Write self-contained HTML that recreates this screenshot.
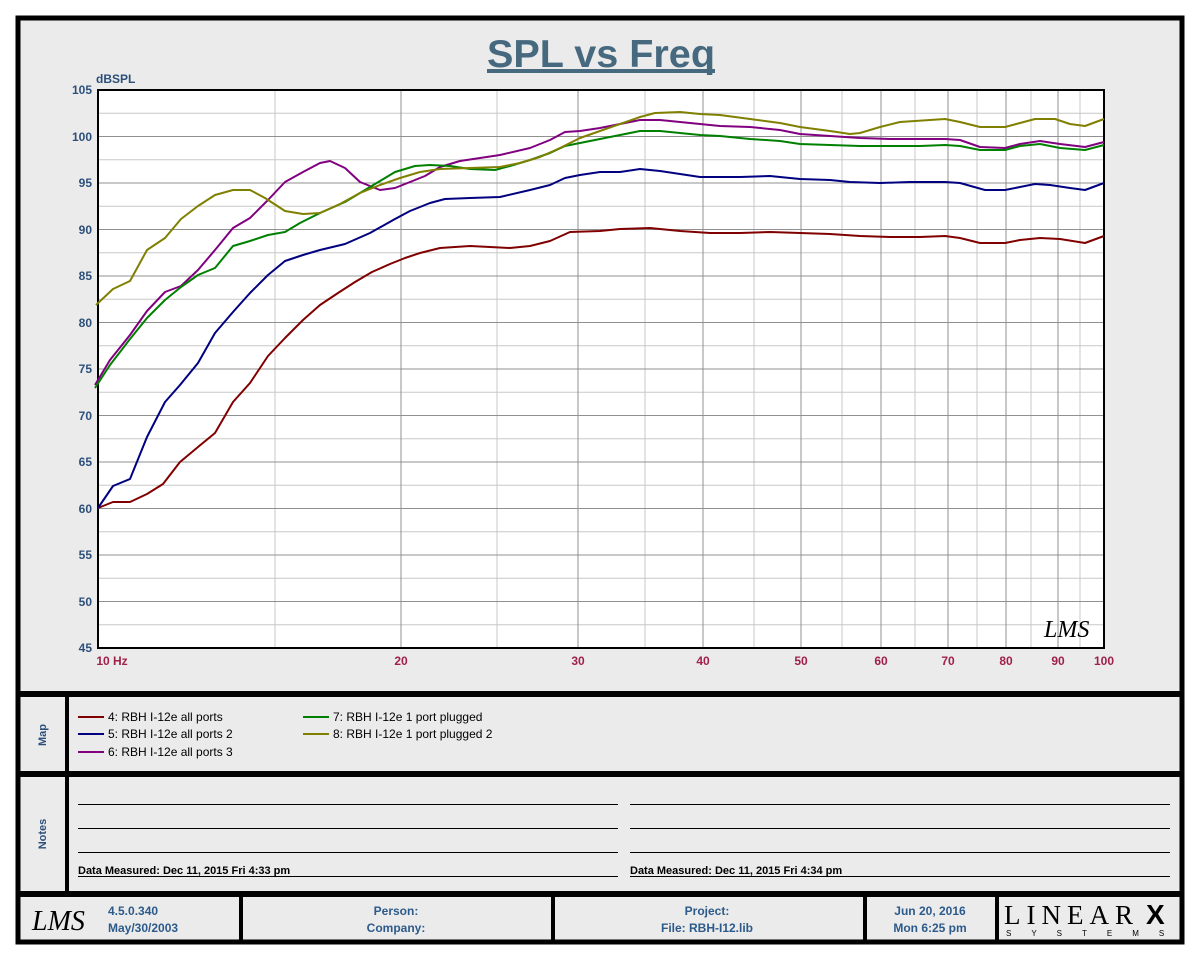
<!DOCTYPE html>
<html><head><meta charset="utf-8"><style>
body{margin:0;background:#fff}
svg{display:block;font-family:"Liberation Sans",sans-serif}
</style></head><body>
<svg width="1200" height="960" viewBox="0 0 1200 960" xmlns="http://www.w3.org/2000/svg">
<rect x="0" y="0" width="1200" height="960" fill="#fff"/>
<rect x="18" y="18" width="1164" height="924" fill="#ebebeb" stroke="#000" stroke-width="5"/>
<text x="487" y="67" font-size="39" font-weight="bold" fill="#46697f" textLength="228" lengthAdjust="spacingAndGlyphs">SPL vs Freq</text>
<rect x="487" y="69" width="228" height="4" fill="#46697f"/>
<text x="96" y="83" font-size="12" font-weight="bold" fill="#2c4f7a">dBSPL</text>
<rect x="98" y="90" width="1006" height="558" fill="#fff"/>
<g id="grid" stroke-width="1">
<g stroke="#c8c8c8">
<line x1="98" x2="1104" y1="113.25" y2="113.25"/><line x1="98" x2="1104" y1="159.75" y2="159.75"/><line x1="98" x2="1104" y1="206.25" y2="206.25"/><line x1="98" x2="1104" y1="252.75" y2="252.75"/><line x1="98" x2="1104" y1="299.25" y2="299.25"/><line x1="98" x2="1104" y1="345.75" y2="345.75"/><line x1="98" x2="1104" y1="392.25" y2="392.25"/><line x1="98" x2="1104" y1="438.75" y2="438.75"/><line x1="98" x2="1104" y1="485.25" y2="485.25"/><line x1="98" x2="1104" y1="531.75" y2="531.75"/><line x1="98" x2="1104" y1="578.25" y2="578.25"/><line x1="98" x2="1104" y1="624.75" y2="624.75"/>
<line y1="90" y2="648" x1="275" x2="275"/><line y1="90" y2="648" x1="497" x2="497"/><line y1="90" y2="648" x1="645" x2="645"/><line y1="90" y2="648" x1="754" x2="754"/><line y1="90" y2="648" x1="842" x2="842"/><line y1="90" y2="648" x1="915" x2="915"/><line y1="90" y2="648" x1="977" x2="977"/><line y1="90" y2="648" x1="1031" x2="1031"/><line y1="90" y2="648" x1="1080" x2="1080"/>
</g>
<g stroke="#909090">
<line x1="98" x2="1104" y1="136.5" y2="136.5"/><line x1="98" x2="1104" y1="183" y2="183"/><line x1="98" x2="1104" y1="229.5" y2="229.5"/><line x1="98" x2="1104" y1="276" y2="276"/><line x1="98" x2="1104" y1="322.5" y2="322.5"/><line x1="98" x2="1104" y1="369" y2="369"/><line x1="98" x2="1104" y1="415.5" y2="415.5"/><line x1="98" x2="1104" y1="462" y2="462"/><line x1="98" x2="1104" y1="508.5" y2="508.5"/><line x1="98" x2="1104" y1="555" y2="555"/><line x1="98" x2="1104" y1="601.5" y2="601.5"/>
<line y1="90" y2="648" x1="401" x2="401"/><line y1="90" y2="648" x1="578" x2="578"/><line y1="90" y2="648" x1="703" x2="703"/><line y1="90" y2="648" x1="801" x2="801"/><line y1="90" y2="648" x1="881" x2="881"/><line y1="90" y2="648" x1="948" x2="948"/><line y1="90" y2="648" x1="1006" x2="1006"/><line y1="90" y2="648" x1="1058" x2="1058"/>
</g>
</g>
<rect x="98" y="90" width="1006" height="558" fill="none" stroke="#000" stroke-width="2"/>
<g font-size="12" font-weight="bold" fill="#2c4f7a" text-anchor="end">
<text x="92" y="94">105</text><text x="92" y="141">100</text><text x="92" y="187">95</text><text x="92" y="234">90</text><text x="92" y="280">85</text><text x="92" y="327">80</text><text x="92" y="373">75</text><text x="92" y="420">70</text><text x="92" y="466">65</text><text x="92" y="513">60</text><text x="92" y="559">55</text><text x="92" y="606">50</text><text x="92" y="652">45</text>
</g>
<g font-size="12" font-weight="bold" fill="#a0204a" text-anchor="middle">
<text x="112" y="665">10  Hz</text><text x="401" y="665">20</text><text x="578" y="665">30</text><text x="703" y="665">40</text><text x="801" y="665">50</text><text x="881" y="665">60</text><text x="948" y="665">70</text><text x="1006" y="665">80</text><text x="1058" y="665">90</text><text x="1104" y="665">100</text>
</g>
<text x="1044" y="637" font-size="24" font-style="italic" font-family="Liberation Serif,serif" fill="#000">LMS</text>
<g fill="none" stroke-width="2" stroke-linejoin="round">
<polyline stroke="#800000" points="98,508 113,502 130,502 147,494 163,484 180,462 198,447 215,433 233,402 250,383 268,356 285,338 303,320 320,305 338,293 355,282 372,272 390,264 405,258 420,253 440,248 470,246 490,247 510,248 530,246 550,241 570,232 600,231 620,229 650,228 680,231 710,233 740,233 770,232 800,233 830,234 860,236 890,237 920,237 945,236 960,238 980,243 1005,243 1020,240 1040,238 1060,239 1085,243 1104,236"/>
<polyline stroke="#000080" points="98,508 113,486 130,479 147,437 165,402 180,385 198,363 215,333 233,312 250,293 268,275 285,261 303,255 320,250 345,244 370,233 395,219 410,211 430,203 445,199 470,198 500,197 530,190 550,185 565,178 580,175 600,172 620,172 640,169 660,171 680,174 700,177 740,177 770,176 800,179 830,180 850,182 880,183 910,182 945,182 960,183 985,190 1005,190 1020,187 1035,184 1050,185 1070,188 1085,190 1104,183"/>
<polyline stroke="#800080" points="95,385 110,360 130,335 147,311 165,292 181,286 198,270 215,250 233,228 250,218 268,200 285,182 303,172 320,163 330,161 345,168 360,182 380,190 395,188 410,182 425,176 440,167 460,161 480,158 500,155 530,148 550,140 565,132 580,131 600,128 620,124 640,120 660,120 680,122 700,124 720,126 750,127 780,130 800,134 830,136 860,138 890,139 920,139 945,139 960,140 980,147 1005,148 1020,144 1040,141 1060,144 1085,147 1104,142"/>
<polyline stroke="#008000" points="95,388 110,365 130,339 147,318 165,300 181,287 198,275 215,268 233,246 250,241 268,235 285,232 300,223 320,213 345,202 370,187 395,172 415,166 430,165 450,166 470,169 495,170 510,166 530,160 550,153 565,146 580,143 600,139 620,135 640,131 660,131 680,133 700,135 720,136 750,139 780,141 800,144 830,145 860,146 890,146 920,146 945,145 960,146 980,150 1005,150 1020,146 1040,144 1060,148 1085,150 1104,145"/>
<polyline stroke="#808000" points="96,305 113,289 130,281 147,250 165,238 181,219 198,206 215,195 233,190 250,190 265,198 285,211 303,214 320,213 340,204 360,193 380,185 400,178 420,172 440,169 470,168 500,167 520,163 540,157 560,148 580,138 600,131 620,124 640,117 655,113 680,112 700,114 720,115 750,119 780,123 800,127 830,131 850,134 860,133 880,127 900,122 930,120 945,119 960,122 980,127 1005,127 1020,123 1035,119 1055,119 1070,124 1085,126 1104,119"/>
</g>
<g stroke="#000">
<line x1="18" x2="1182" y1="694" y2="694" stroke-width="6"/>
<line x1="18" x2="1182" y1="774" y2="774" stroke-width="6"/>
<line x1="18" x2="1182" y1="894" y2="894" stroke-width="6"/>
<line x1="67" x2="67" y1="694" y2="894" stroke-width="4"/>
<line x1="241" x2="241" y1="894" y2="942" stroke-width="4"/>
<line x1="553" x2="553" y1="894" y2="942" stroke-width="4"/>
<line x1="865" x2="865" y1="894" y2="942" stroke-width="4"/>
<line x1="997" x2="997" y1="894" y2="942" stroke-width="4"/>
</g>
<g font-size="11" font-weight="bold" fill="#2c4f7a">
<text transform="translate(46,735) rotate(-90)" text-anchor="middle">Map</text>
<text transform="translate(46,834) rotate(-90)" text-anchor="middle">Notes</text>
</g>
<g stroke-width="2">
<line x1="78" x2="104" y1="717" y2="717" stroke="#800000"/>
<line x1="78" x2="104" y1="734" y2="734" stroke="#000080"/>
<line x1="78" x2="104" y1="752" y2="752" stroke="#800080"/>
<line x1="303" x2="329" y1="717" y2="717" stroke="#008000"/>
<line x1="303" x2="329" y1="734" y2="734" stroke="#808000"/>
</g>
<g font-size="12" fill="#000">
<text x="108" y="721">4: RBH I-12e all ports</text>
<text x="108" y="738">5: RBH I-12e all ports 2</text>
<text x="108" y="756">6: RBH I-12e all ports 3</text>
<text x="333" y="721">7: RBH I-12e 1 port plugged</text>
<text x="333" y="738">8: RBH I-12e 1 port plugged 2</text>
</g>
<g stroke="#000" stroke-width="1">
<line x1="78" x2="618" y1="804.5" y2="804.5"/><line x1="78" x2="618" y1="828.5" y2="828.5"/><line x1="78" x2="618" y1="852.5" y2="852.5"/><line x1="78" x2="618" y1="876.5" y2="876.5"/>
<line x1="630" x2="1170" y1="804.5" y2="804.5"/><line x1="630" x2="1170" y1="828.5" y2="828.5"/><line x1="630" x2="1170" y1="852.5" y2="852.5"/><line x1="630" x2="1170" y1="876.5" y2="876.5"/>
</g>
<g font-size="11" font-weight="bold" fill="#000">
<text x="78" y="874">Data Measured: Dec 11, 2015  Fri  4:33 pm</text>
<text x="630" y="874">Data Measured: Dec 11, 2015  Fri  4:34 pm</text>
</g>
<text x="32" y="930" font-size="28" font-style="italic" font-family="Liberation Serif,serif" fill="#000">LMS</text>
<g font-size="12" font-weight="bold" fill="#2c5a8a">
<text x="108" y="915">4.5.0.340</text>
<text x="108" y="932">May/30/2003</text>
<text x="396" y="915" text-anchor="middle">Person:</text>
<text x="396" y="932" text-anchor="middle">Company:</text>
<text x="707" y="915" text-anchor="middle">Project:</text>
<text x="707" y="932" text-anchor="middle">File: RBH-I12.lib</text>
<text x="930" y="915" text-anchor="middle">Jun 20, 2016</text>
<text x="930" y="932" text-anchor="middle">Mon  6:25 pm</text>
</g>
<text x="1004" y="924" font-size="27" font-family="Liberation Serif,serif" fill="#000" letter-spacing="6">LINEAR</text>
<text x="1146" y="924" font-size="28" font-weight="bold" fill="#000">X</text>
<text x="1006" y="936" font-size="8" fill="#000" letter-spacing="20">SYSTEMS</text>
</svg>
</body></html>
